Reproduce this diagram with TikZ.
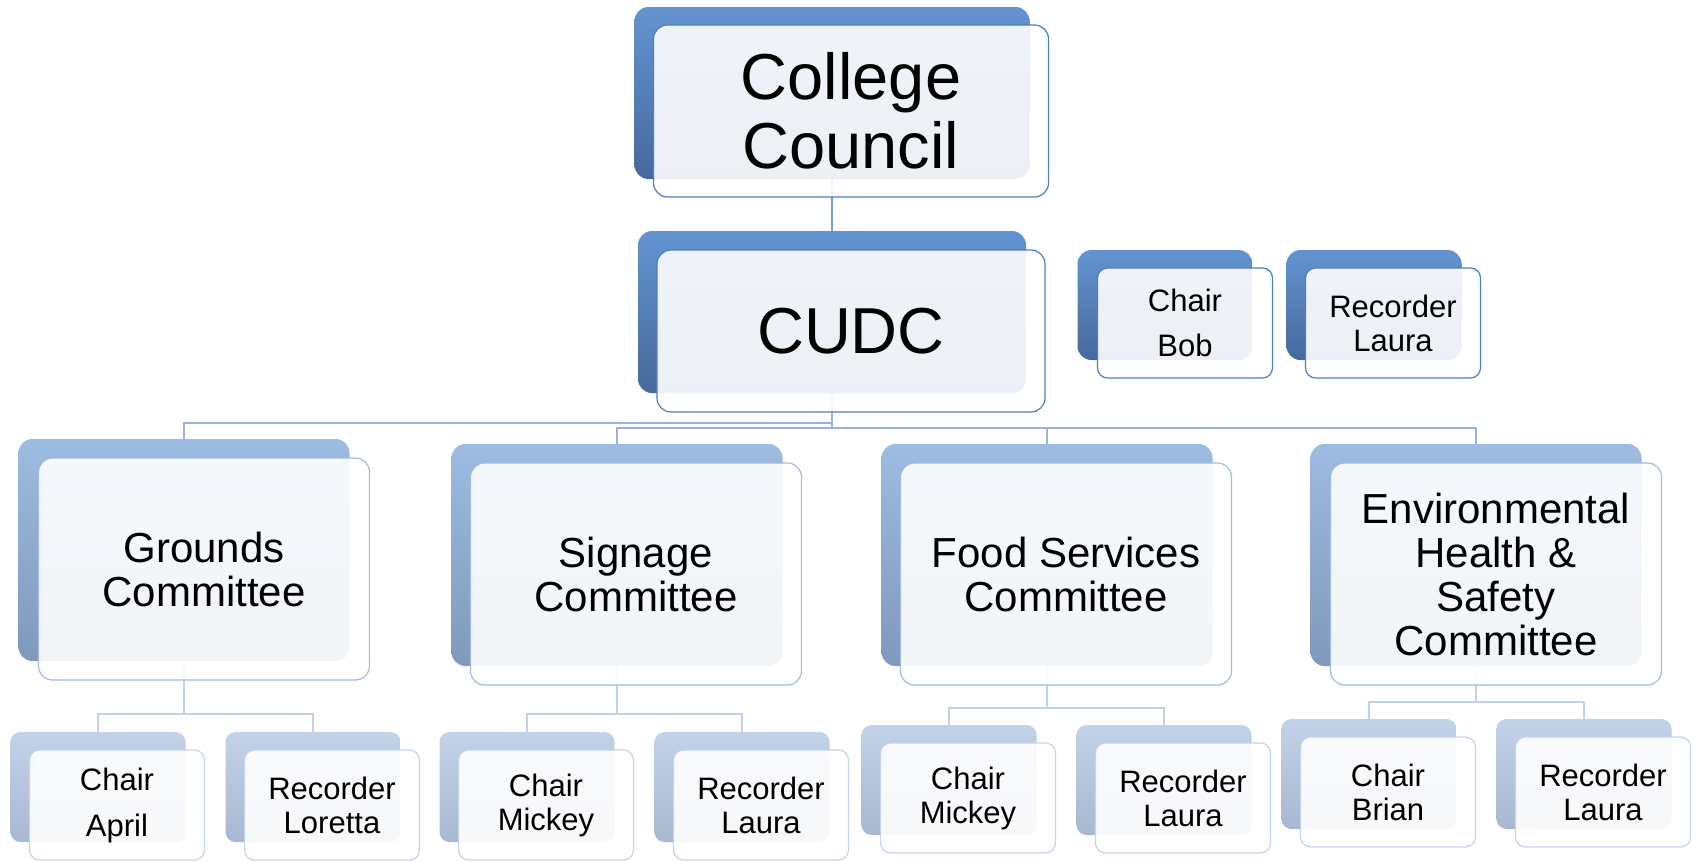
\documentclass[tikz,border=0pt]{standalone}
\usepackage{fontspec}
\setmainfont{Liberation Sans}
\pgfdeclarelayer{bg}
\pgfsetlayers{bg,main}
\definecolor{b1top}{HTML}{6394D1}
\definecolor{b1bot}{HTML}{46699C}
\definecolor{b2top}{HTML}{9DBCE1}
\definecolor{b2bot}{HTML}{7E99BB}
\definecolor{b3top}{HTML}{C2D2E9}
\definecolor{b3bot}{HTML}{A8B8D0}
\definecolor{e1}{HTML}{4F7EBD}
\definecolor{e2}{HTML}{A3BBDC}
\definecolor{e3}{HTML}{C6D4E9}
\definecolor{c1}{HTML}{7A9CCB}
\definecolor{c2}{HTML}{9BB4D9}
\definecolor{c3}{HTML}{C3D2E8}
\begin{document}
\begin{tikzpicture}[x=1pt,y=-1pt,
  box/.style={rectangle, inner sep=0pt, outer sep=0pt, align=center},
  szA/.style={minimum width=395pt, minimum height=172pt},
  szB/.style={minimum width=388pt, minimum height=162pt},
  szC/.style={minimum width=331pt, minimum height=222pt},
  szD/.style={minimum width=175pt, minimum height=110pt},
  backA/.style={box, rounded corners=14pt, top color=b1top, bottom color=b1bot},
  frontA/.style={box, rounded corners=14pt, draw=e1, line width=1.2pt, fill=white, fill opacity=0.9, text opacity=1},
  backB/.style={box, rounded corners=14pt, top color=b2top, bottom color=b2bot},
  frontB/.style={box, rounded corners=14pt, draw=e2, line width=1.2pt, fill=white, fill opacity=0.9, text opacity=1, font=\fontsize{42}{44}\selectfont},
  backC/.style={box, rounded corners=10pt, top color=b3top, bottom color=b3bot},
  frontC/.style={box, rounded corners=10pt, draw=e3, line width=1.2pt, fill=white, fill opacity=0.9, text opacity=1, font=\fontsize{31}{34}\selectfont},
  frontS/.style={box, rounded corners=10pt, draw=e1, line width=1.2pt, fill=white, fill opacity=0.9, text opacity=1, font=\fontsize{31}{34}\selectfont},
  linkA/.style={draw=c1, line width=1.5pt},
  linkB/.style={draw=c2, line width=1.5pt},
  linkC/.style={draw=c3, line width=1.5pt}
]
\useasboundingbox (0,0) rectangle (1701,862);

% top level
\node[backA, szA] (cc) at (832,93) {};
\node[frontA, szA, font=\fontsize{65}{69}\selectfont] (ccf) at (851,111) {College\\Council};
\node[backA, szB] (cudc) at (832,312) {};
\node[frontA, szB, font=\fontsize{65}{69}\selectfont] (cudcf) at (851,331) {CUDC};
\node[backA, szD] (bob) at (1165,305) {};
\node[frontS, szD] (bobf) at (1185,323) {Chair\\[11pt]Bob};
\node[backA, szD] (lau0) at (1374,305) {};
\node[frontS, szD] (lau0f) at (1393,323) {Recorder\\Laura};

% committees
\node[backB, szC] (grounds) at (184,550) {};
\node[frontB, szC] (groundsf) at (204,569) {Grounds\\Committee};
\node[backB, szC] (signage) at (617,555) {};
\node[frontB, szC] (signagef) at (636,574) {Signage\\Committee};
\node[backB, szC] (food) at (1047,555) {};
\node[frontB, szC] (foodf) at (1066,574) {Food Services\\Committee};
\node[backB, szC] (env) at (1476,555) {};
\node[frontB, szC] (envf) at (1496,574) {Environmental\\Health \&\\Safety\\Committee};

% sub boxes
\node[backC, szD] (april) at (98,787) {};
\node[frontC, szD] (aprilf) at (117,805) {Chair\\[12pt]April};
\node[backC, szD] (loretta) at (313,787) {};
\node[frontC, szD] (lorettaf) at (332,805) {Recorder\\Loretta};
\node[backC, szD] (mick1) at (527,787) {};
\node[frontC, szD] (mick1f) at (546,805) {Chair\\Mickey};
\node[backC, szD] (lau1) at (742,787) {};
\node[frontC, szD] (lau1f) at (761,805) {Recorder\\Laura};
\node[backC, szD] (mick2) at (949,780) {};
\node[frontC, szD] (mick2f) at (968,798) {Chair\\Mickey};
\node[backC, szD] (lau2) at (1164,780) {};
\node[frontC, szD] (lau2f) at (1183,798) {Recorder\\Laura};
\node[backC, szD] (brian) at (1369,774) {};
\node[frontC, szD] (brianf) at (1388,792) {Chair\\Brian};
\node[backC, szD] (lau3) at (1584,774) {};
\node[frontC, szD] (lau3f) at (1603,792) {Recorder\\Laura};

\begin{pgfonlayer}{bg}
\draw[linkA] (cc.south) -- (cudc.north);
\draw[linkB] (cudc.south) -- ++(0,30) -| (grounds.north);
\draw[linkB] (cudc.south) -- ++(0,35) coordinate (j2);
\draw[linkB] (signage.north) |- (j2);
\draw[linkB] (env.north) |- (j2);
\draw[linkB] (food.north) -- (food.north |- j2);
\draw[linkC] (grounds.south) -- ++(0,53) coordinate (jg);
\draw[linkC] (april.north) |- (jg) -| (loretta.north);
\draw[linkC] (signage.south) -- ++(0,48) coordinate (js);
\draw[linkC] (mick1.north) |- (js) -| (lau1.north);
\draw[linkC] (food.south) -- ++(0,42) coordinate (jf);
\draw[linkC] (mick2.north) |- (jf) -| (lau2.north);
\draw[linkC] (env.south) -- ++(0,36) coordinate (je);
\draw[linkC] (brian.north) |- (je) -| (lau3.north);
\end{pgfonlayer}
\end{tikzpicture}
\end{document}
